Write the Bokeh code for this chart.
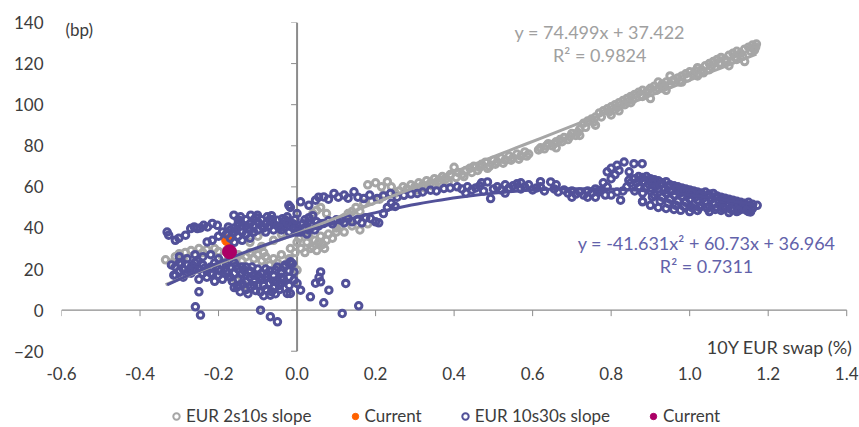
import numpy as np
from bokeh.plotting import figure
from bokeh.layouts import column
from bokeh.models import (FixedTicker, PrintfTickFormatter, Label,
                          Legend, LegendItem, Range1d)
from bokeh.embed import file_html
from bokeh.resources import INLINE

# ---------------- data ----------------
x_ticks = [-0.6, -0.4, -0.2, 0.0, 0.2, 0.4, 0.6, 0.8, 1.0, 1.2, 1.4]
y_ticks = [-20, 0, 20, 40, 60, 80, 100, 120, 140]

# EUR 2s10s slope (x = 10Y EUR swap %, y = bp)
eur_2s10s = [
    (-0.335, 24.5), (-0.32, 23), (-0.31, 26), (-0.30, 27.5), (-0.29, 25), (-0.285, 28),
    (-0.27, 29), (-0.26, 27), (-0.25, 30), (-0.24, 28), (-0.23, 29.5), (-0.22, 27),
    (-0.21, 30), (-0.20, 28.5), (-0.19, 26), (-0.18, 29), (-0.17, 27),
    (-0.16, 25), (-0.155, 14.5), (-0.15, 27), (-0.14, 24), (-0.135, 12), (-0.13, 26),
    (-0.12, 28), (-0.12, 33), (-0.11, 25), (-0.10, 27), (-0.10, 36), (-0.09, 24),
    (-0.09, 31), (-0.085, 28), (-0.08, 26), (-0.07, 22), (-0.06, 25), (-0.06, 34),
    (-0.05, 23), (-0.04, 27), (-0.04, 37), (-0.03, 22), (-0.02, 25), (-0.017, 30),
    (-0.01, 21), (0.0, 19.5), (-0.005, 28), (0.0, 33), (0.005, 35),
    (0.01, 30), (0.02, 28), (0.025, 33), (0.03, 36), (0.035, 30), (0.04, 31),
    (0.045, 34), (0.05, 29), (0.055, 33), (0.06, 36), (0.065, 32), (0.07, 30),
    (0.075, 34), (0.08, 37), (0.09, 35), (0.10, 38), (0.04, 47), (0.05, 48.6),
    (0.06, 50), (0.075, 47), (0.10, 40), (0.11, 41), (0.12, 38), (0.12, 45),
    (0.13, 47), (0.14, 41), (0.14, 48), (0.16, 39), (0.18, 42),
    (0.15, 50), (0.16, 48), (0.17, 52), (0.18, 61), (0.19, 53), (0.20, 62),
    (0.21, 54), (0.215, 60), (0.22, 56), (0.23, 62.5), (0.24, 60), (0.25, 57),
    (0.26, 58), (0.27, 60), (0.28, 59), (0.29, 61), (0.30, 60), (0.31, 62),
    (0.32, 61), (0.33, 63), (0.34, 62), (0.35, 64), (0.36, 63), (0.37, 65),
    (0.38, 64), (0.39, 66), (0.40, 69.5), (0.41, 67), (0.42, 66), (0.43, 68),
    (0.44, 69), (0.45, 70), (0.46, 68), (0.47, 71), (0.48, 72), (0.49, 70),
    (0.50, 73), (0.51, 72), (0.52, 74), (0.53, 73), (0.54, 75), (0.55, 74),
    (0.56, 76), (0.57, 75), (0.58, 77), (0.59, 76),
    (0.305, 58.5), (0.325, 59.5), (0.345, 60.5), (0.365, 61.5), (0.385, 62.5),
    (0.405, 64.5), (0.425, 65), (0.445, 67), (0.465, 69.5), (0.485, 69),
    (0.505, 71), (0.525, 71.5), (0.545, 73), (0.565, 73.5), (0.585, 75),
    (0.62, 79), (0.63, 78.5), (0.64, 81), (0.65, 80), (0.66, 82), (0.66, 79),
    (0.67, 83), (0.68, 84), (0.69, 83), (0.70, 86), (0.71, 85), (0.72, 88),
    (0.72, 85), (0.73, 91), (0.74, 92), (0.75, 93), (0.76, 94), (0.76, 90),
    (0.77, 96), (0.78, 97), (0.79, 98), (0.80, 99), (0.80, 95), (0.81, 100),
    (0.82, 101), (0.82, 97), (0.83, 102), (0.84, 103), (0.85, 104), (0.85, 101),
    (0.86, 105), (0.87, 106), (0.88, 107), (0.88, 104), (0.89, 106), (0.90, 108),
    (0.90, 103), (0.91, 109), (0.92, 108), (0.92, 111), (0.93, 110), (0.94, 111),
    (0.94, 107), (0.95, 110), (0.95, 114), (0.96, 112), (0.97, 113), (0.98, 114),
    (0.98, 111), (0.99, 115), (1.00, 116), (1.01, 115), (1.02, 118), (1.02, 114),
    (1.03, 117), (1.04, 119), (1.05, 120), (1.05, 117), (1.06, 121), (1.07, 122),
    (1.08, 123), (1.08, 120), (1.09, 122), (1.10, 124), (1.10, 119), (1.11, 125),
    (1.12, 126), (1.12, 122), (1.13, 125), (1.14, 127), (1.14, 121), (1.15, 128),
    (1.16, 129), (1.17, 129.5), (1.168, 128),
    (0.615, 78), (0.635, 80), (0.655, 81), (0.675, 82), (0.695, 84.5),
    (0.715, 86.5), (0.735, 89), (0.755, 91.5), (0.775, 94), (0.795, 96.5),
    (0.815, 98.5), (0.835, 100), (0.855, 102.5), (0.875, 104.5), (0.895, 107),
    (0.915, 107), (0.935, 108.5), (0.955, 111.5), (0.975, 111), (0.995, 113),
    (1.015, 116.5), (1.035, 115.5), (1.055, 118.5), (1.075, 120), (1.095, 121),
    (1.115, 123), (1.135, 123.5), (1.155, 126), (1.165, 126.5),
]

# EUR 10s30s slope
eur_10s30s = [
    (-0.331, 38), (-0.327, 36.5), (-0.31, 34), (-0.301, 35), (-0.284, 36.5),
    (-0.271, 39.7), (-0.262, 40.5), (-0.254, 39.7), (-0.246, 40), (-0.238, 41.3),
    (-0.228, 40.5), (-0.216, 42.2), (-0.203, 41.3), (-0.229, 33.2), (-0.216, 34),
    (-0.20, 36), (-0.19, 38), (-0.18, 37), (-0.17, 39), (-0.16, 40),
    (-0.161, 46.2), (-0.144, 45.4), (-0.13, 44), (-0.118, 46.2), (-0.101, 46.2),
    (-0.09, 44), (-0.076, 45.4), (-0.063, 44), (-0.05, 43.8), (-0.037, 44.5),
    (-0.025, 45.4), (-0.15, 42), (-0.14, 41), (-0.12, 42), (-0.11, 41), (-0.10, 43),
    (-0.08, 42), (-0.07, 41), (-0.06, 42), (-0.04, 41), (-0.03, 42), (-0.02, 41),
    (-0.01, 42), (-0.17, 35), (-0.16, 33), (-0.15, 36), (-0.14, 34), (-0.13, 37),
    (-0.12, 35), (-0.11, 38),
    (-0.16, 38), (-0.15, 44), (-0.14, 38), (-0.13, 41), (-0.12, 39), (-0.11, 44),
    (-0.10, 39), (-0.09, 41), (-0.08, 38), (-0.07, 44), (-0.06, 39), (-0.05, 41),
    (-0.04, 39), (-0.03, 44), (-0.02, 38), (-0.01, 40), (0.0, 38),
    (-0.175, 40.5), (-0.155, 39), (-0.145, 43.5), (-0.125, 40), (-0.105, 45),
    (-0.085, 40), (-0.065, 46), (-0.045, 40), (-0.025, 42.5), (-0.005, 40),
    (0.015, 42), (0.025, 37), (0.035, 42), (0.045, 39), (0.055, 41),
    (-0.32, 22), (-0.31, 21), (-0.30, 23), (-0.29, 20), (-0.28, 22), (-0.27, 21),
    (-0.26, 23), (-0.25, 20), (-0.24, 22), (-0.23, 19), (-0.22, 21), (-0.21, 23),
    (-0.20, 20), (-0.19, 22), (-0.18, 19), (-0.17, 21), (-0.16, 23), (-0.15, 20),
    (-0.14, 18), (-0.13, 21), (-0.12, 19), (-0.11, 17), (-0.10, 20), (-0.09, 18),
    (-0.08, 16), (-0.07, 19), (-0.06, 17), (-0.05, 21), (-0.04, 18), (-0.03, 22),
    (-0.02, 19), (-0.30, 26), (-0.28, 25), (-0.26, 27), (-0.24, 26), (-0.22, 27),
    (-0.20, 25), (-0.31, 17), (-0.29, 16), (-0.27, 18), (-0.25, 15), (-0.23, 16),
    (-0.21, 14), (-0.19, 15), (-0.17, 16), (-0.15, 15), (-0.13, 14),
    (-0.30, 19), (-0.28, 18), (-0.26, 20), (-0.24, 18), (-0.22, 18), (-0.20, 17),
    (-0.18, 22), (-0.16, 18), (-0.14, 21), (-0.12, 16), (-0.10, 17), (-0.08, 20),
    (-0.06, 14), (-0.04, 13), (-0.02, 16), (-0.09, 15), (-0.07, 13), (-0.11, 12),
    (-0.13, 17), (-0.15, 12),
    (-0.295, 22.5), (-0.275, 19.5), (-0.255, 24), (-0.235, 20.5), (-0.215, 17.5),
    (-0.195, 19), (-0.175, 18), (-0.155, 21.5), (-0.135, 19.5), (-0.115, 21),
    (-0.095, 16), (-0.075, 17.5), (-0.055, 19.5), (-0.035, 15), (-0.145, 9),
    (-0.125, 8), (-0.105, 9.5), (-0.085, 7), (-0.065, 9), (-0.045, 12), (-0.165, 14),
    (-0.16, 11), (-0.152, 11.3), (-0.14, 13), (-0.13, 10), (-0.118, 11.3),
    (-0.11, 14), (-0.10, 12), (-0.093, 8.9), (-0.085, 12), (-0.08, 10), (-0.068, 7.3),
    (-0.06, 11), (-0.05, 14), (-0.04, 16), (-0.034, 21), (-0.025, 8.1),
    (-0.017, 23.5), (-0.008, 14.6), (0.0, 13), (-0.02, 12), (-0.045, 10), (-0.055, 8),
    (-0.314, 17), (-0.25, 8.9), (-0.259, 1.6), (-0.246, -2.4), (-0.093, 0),
    (-0.068, -3.2), (-0.05, -5.7),
    (0.034, 6.5), (0.047, 13.1), (0.06, 13.8), (-0.012, 22.7), (-0.008, 18.6),
    (-0.017, 8.1), (0.009, 9.7), (0.056, 16), (0.06, 18.6), (0.081, 9.7),
    (0.068, 3.6), (0.124, 13), (0.115, -1.6), (0.157, 2.1),
    (0.009, 52.7), (-0.017, 50), (0.0, 47), (-0.021, 51), (0.01, 38), (0.02, 40),
    (0.03, 39), (0.0, 41), (-0.005, 44), (0.02, 44), (0.03, 45), (0.04, 46),
    (0.03, 51), (0.047, 53.5), (0.055, 55), (0.068, 55.1), (0.08, 54), (0.094, 56.8),
    (0.105, 55), (0.12, 56), (0.13, 54.5), (0.145, 57.6), (0.155, 55), (0.17, 54.3),
    (0.185, 56), (0.204, 54.3), (0.22, 55.5), (0.238, 56.8), (0.255, 55),
    (0.272, 55.9), (0.29, 56.5),
    (0.04, 41), (0.05, 43), (0.06, 42), (0.068, 42.2), (0.08, 43.5), (0.09, 42),
    (0.10, 44), (0.111, 43.8), (0.12, 42.5), (0.13, 44.5), (0.14, 43), (0.153, 44),
    (0.165, 42.5), (0.175, 45), (0.187, 44.6), (0.20, 43), (0.208, 42.5),
    (0.22, 47), (0.23, 50), (0.24, 52), (0.25, 50.5),
    (0.306, 56.8), (0.32, 57.5), (0.34, 58.4), (0.355, 58), (0.374, 59.2),
    (0.39, 59.5), (0.408, 60), (0.42, 59), (0.434, 60), (0.445, 58.5), (0.455, 59.5),
    (0.465, 60.5), (0.475, 58), (0.485, 62.4), (0.493, 54.3), (0.50, 59), (0.51, 60),
    (0.52, 58.5), (0.53, 61), (0.54, 59.5), (0.55, 60.5), (0.56, 61.5), (0.57, 59),
    (0.58, 60), (0.59, 61), (0.60, 58.5), (0.61, 59.5), (0.62, 60), (0.63, 58),
    (0.646, 62.4), (0.655, 59), (0.665, 57.5), (0.68, 58.5), (0.69, 57), (0.70, 58),
    (0.71, 56.5), (0.72, 57.5), (0.73, 56), (0.74, 58), (0.75, 57), (0.76, 59),
    (0.77, 57.5), (0.43, 57), (0.47, 62), (0.53, 57), (0.57, 62), (0.62, 62.5),
    (0.66, 61), (0.70, 55), (0.74, 55), (0.76, 55),
    (0.773, 58.4), (0.78, 62), (0.79, 67.3), (0.80, 69), (0.815, 70.5), (0.833, 72.1),
    (0.858, 71.3), (0.879, 71.3), (0.846, 67.3), (0.845, 63.2), (0.81, 66), (0.82, 68),
    (0.80, 64), (0.79, 60), (0.785, 56), (0.80, 56), (0.815, 57.5), (0.83, 58),
    (0.84, 60), (0.824, 53.5), (0.765, 57.5),
    (0.85, 62), (0.86, 64), (0.87, 65), (0.88, 64.5), (0.89, 65), (0.90, 64),
    (0.91, 63.5), (0.92, 63), (0.93, 62), (0.94, 62.5), (0.95, 61), (0.96, 60.5),
    (0.97, 60), (0.98, 59.5), (0.99, 59), (1.00, 58.5), (1.01, 58), (1.02, 57.5),
    (1.03, 57), (1.04, 57.5), (1.05, 56.5), (1.06, 56.8), (1.07, 55.5), (1.08, 55),
    (1.09, 54.5), (1.10, 54), (1.11, 53.5), (1.12, 53), (1.13, 52.5), (1.14, 52),
    (1.15, 52.5), (1.16, 51.5), (1.172, 51),
    (0.86, 58), (0.87, 60), (0.88, 57), (0.89, 60), (0.90, 58), (0.91, 56),
    (0.92, 59), (0.93, 55), (0.94, 57), (0.95, 54), (0.96, 56), (0.97, 53),
    (0.98, 55.5), (0.99, 52.5), (1.00, 54), (1.01, 51.5), (1.02, 53.5), (1.03, 51),
    (1.04, 53), (1.05, 50.5), (1.06, 52), (1.07, 50), (1.08, 51.5), (1.09, 49.5),
    (1.10, 51), (1.11, 49), (1.12, 50.5), (1.13, 49), (1.14, 50), (1.15, 48),
    (1.155, 47.8), (1.16, 49.5), (0.88, 52.7),
    (0.88, 53), (0.90, 51), (0.92, 50), (0.94, 49.5), (0.96, 49), (0.977, 48.6),
    (1.00, 48), (1.02, 48.5), (1.05, 48), (1.08, 48.5), (1.10, 47.5), (1.12, 48),
    (0.895, 61.5), (0.915, 60.5), (0.935, 59), (0.955, 58), (0.975, 57),
    (0.995, 56), (1.015, 55), (1.035, 54.5), (1.055, 54), (1.075, 53),
    (1.095, 52), (1.115, 51.5), (1.135, 51),
    (0.865, 62), (0.885, 62.5), (0.905, 62), (0.925, 61), (0.945, 60), (0.965, 59),
    (0.985, 58), (1.005, 57), (1.025, 56), (1.045, 55.5), (1.065, 55), (1.085, 54),
    (1.105, 53), (1.125, 52), (1.145, 51), (0.905, 55), (0.925, 53), (0.945, 52),
    (0.965, 51), (0.985, 50.5), (1.005, 50), (1.025, 50), (1.045, 49.5),
    (1.065, 49), (1.085, 49.5), (1.105, 49), (1.125, 48.5), (1.145, 48.5),
]

current_2s10s = [(-0.178, 34.0)]
current_10s30s = [(-0.172, 28.4)]

# trend lines as printed on the chart
lin_a, lin_b = 74.499, 37.422
quad_a, quad_b, quad_c = -41.631, 60.73, 36.964
eq_2s10s = ["y = 74.499x + 37.422", "R\u00b2 = 0.9824"]
eq_10s30s = ["y = -41.631x\u00b2 + 60.73x + 36.964", "R\u00b2 = 0.7311"]
legend_labels = ["EUR 2s10s slope", "Current", "EUR 10s30s slope", "Current"]

# ---------------- style ----------------
GREY = "#a6a6a6"
BLUE = "#525199"
ORANGE = "#ff6200"
MAGENTA = "#ab0066"
TEXT = "#3c3c3c"
AXIS = "#8c8c8c"
FONT = "Lato"

W = 859
H_MAIN, H_LEG = 390, 37
X0, X1, Y0, Y1 = -0.6, 1.43, -25, 140
BL, BT = 61, 22
BR = 1
FW = W - BL - BR
FH = 339
BB = H_MAIN - BT - FH
TICK_PX = 6
tick_dx = TICK_PX * (X1 - X0) / FW
tick_dy = TICK_PX * (Y1 - Y0) / FH
MS, MLW = 6.5, 3

gx, gy = zip(*eur_2s10s)
bx, by = zip(*eur_10s30s)
ox, oy = zip(*current_2s10s)
mx, my = zip(*current_10s30s)

p = figure(width=W, height=H_MAIN, output_backend="svg", toolbar_location=None,
           x_range=Range1d(X0, X1), y_range=Range1d(Y0, Y1),
           min_border_left=BL, min_border_right=BR, min_border_top=BT,
           min_border_bottom=BB)
p.outline_line_color = None
p.grid.visible = False
p.background_fill_color = "white"

# label-only axes at the frame edges
xa = p.xaxis[0]
xa.ticker = FixedTicker(ticks=x_ticks)
xa.formatter = PrintfTickFormatter(format="%.1f")
xa.axis_line_color = None
xa.major_tick_line_color = None
xa.major_tick_out = 0
xa.major_tick_in = 0
xa.minor_tick_line_color = None
xa.major_label_standoff = 5
xa.major_label_text_font = FONT
xa.major_label_text_font_size = "17px"
xa.major_label_text_color = TEXT

ya = p.yaxis[0]
ya.ticker = FixedTicker(ticks=y_ticks)
ya.axis_line_color = None
ya.major_tick_line_color = None
ya.major_tick_out = 0
ya.major_tick_in = 0
ya.minor_tick_line_color = None
ya.major_label_standoff = 18
ya.major_label_text_font = FONT
ya.major_label_text_font_size = "17px"
ya.major_label_text_color = TEXT

# axis lines crossing at zero, with tick marks
p.segment(x0=[x_ticks[0]], y0=[0], x1=[x_ticks[-1]], y1=[0],
          line_color=AXIS, line_width=1.3)
p.segment(x0=[0], y0=[y_ticks[0]], x1=[0], y1=[y_ticks[-1]],
          line_color=AXIS, line_width=2)
p.segment(x0=x_ticks, y0=[0] * len(x_ticks), x1=x_ticks,
          y1=[-tick_dy] * len(x_ticks), line_color=AXIS, line_width=1)
p.segment(x0=[0] * len(y_ticks), y0=y_ticks, x1=[-tick_dx] * len(y_ticks),
          y1=y_ticks, line_color=AXIS, line_width=1)

r_grey = p.scatter(gx, gy, marker="circle", size=MS, fill_color=None,
                   line_color=GREY, line_width=MLW)
r_or = p.scatter(ox, oy, marker="circle", size=11, fill_color=ORANGE,
                 line_color=ORANGE, line_width=1)
r_blue = p.scatter(bx, by, marker="circle", size=MS, fill_color=None,
                   line_color=BLUE, line_width=MLW)

tx_g = np.linspace(min(gx), max(gx), 50)
p.line(tx_g, lin_a * tx_g + lin_b, line_color=GREY, line_width=3)
tx_b = np.linspace(min(bx), max(bx), 100)
p.line(tx_b, quad_a * tx_b ** 2 + quad_b * tx_b + quad_c, line_color=BLUE,
       line_width=3)

r_mag = p.scatter(mx, my, marker="circle", size=14, fill_color=MAGENTA,
                  line_color=MAGENTA, line_width=1)

# annotations
for txt, yy in zip(eq_2s10s, [135.2, 124.0]):
    p.add_layout(Label(x=0.771, y=yy, text=txt, text_align="center",
                       text_baseline="middle", text_font=FONT,
                       text_font_size="18px", text_color="#a0a0a0"))
for txt, yy in zip(eq_10s30s, [32.6, 21.4]):
    p.add_layout(Label(x=1.043, y=yy, text=txt, text_align="center",
                       text_baseline="middle", text_font=FONT,
                       text_font_size="18px", text_color="#6262aa"))
p.add_layout(Label(x=-0.59, y=136.7, text="(bp)", text_align="left",
                   text_baseline="middle", text_font=FONT,
                   text_font_size="17px", text_color=TEXT))
p.add_layout(Label(x=1.415, y=-18, text="10Y EUR swap (%)", text_align="right",
                   text_baseline="middle", text_font=FONT,
                   text_font_size="18px", text_color=TEXT))

# ---------------- legend strip ----------------
q = figure(width=W, height=H_LEG, output_backend="svg", toolbar_location=None,
           x_axis_location=None, y_axis_location=None,
           min_border_left=BL, min_border_right=BR, min_border_top=0,
           min_border_bottom=0,
           x_range=Range1d(10, 11), y_range=Range1d(1000, 1001))
q.outline_line_color = None
q.grid.visible = False
# off-range copies of the series: only their legend glyphs are seen
lg_grey = q.scatter(gx, gy, marker="circle", size=MS, fill_color=None,
                    line_color=GREY, line_width=2)
lg_or = q.scatter(ox, oy, marker="circle", size=9, fill_color=ORANGE,
                  line_color=ORANGE)
lg_blue = q.scatter(bx, by, marker="circle", size=MS, fill_color=None,
                    line_color=BLUE, line_width=2)
lg_mag = q.scatter(mx, my, marker="circle", size=9, fill_color=MAGENTA,
                   line_color=MAGENTA)
legend = Legend(items=[LegendItem(label=lab, renderers=[r]) for lab, r in
                       zip(legend_labels, [lg_grey, lg_or, lg_blue, lg_mag])],
                orientation="horizontal", location=(106, 1),
                glyph_width=18, glyph_height=16, label_height=16,
                label_standoff=1, spacing=34, padding=0, margin=0,
                border_line_color=None, background_fill_alpha=0,
                label_text_font=FONT, label_text_font_size="17px",
                label_text_color=TEXT)
q.add_layout(legend, "center")

open("out.html", "w").write(file_html(column(p, q, spacing=0), INLINE))
